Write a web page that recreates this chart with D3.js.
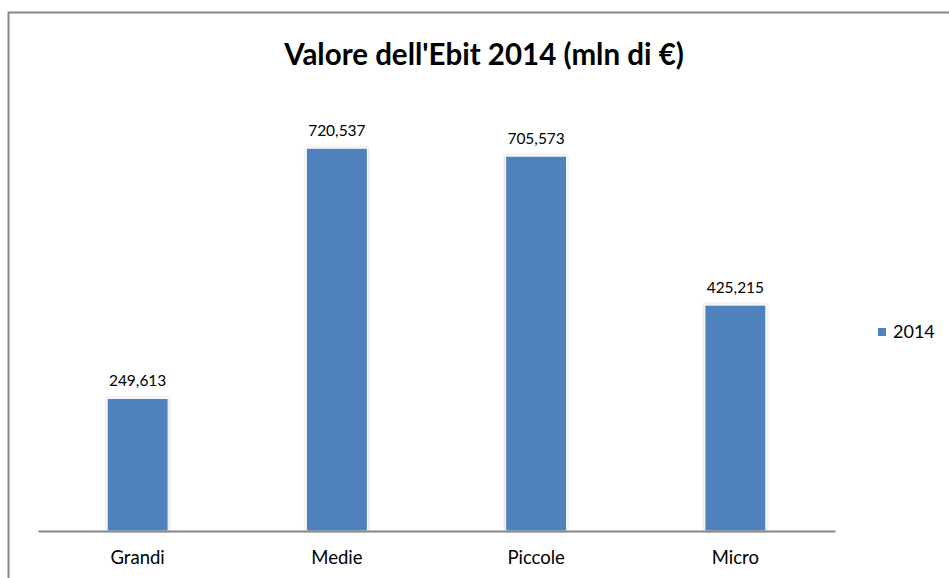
<!DOCTYPE html>
<html>
<head>
<meta charset="utf-8">
<script src="https://cdn.jsdelivr.net/npm/d3@7"></script>
<style>
  body { margin: 0; background: #fff; }
  text { font-family: Lato, "Open Sans", sans-serif; fill: #000; }
</style>
</head>
<body>
<svg id="chart" width="949" height="578"></svg>
<script>
  const categories = ["Grandi", "Medie", "Piccole", "Micro"];
  const values = [249.613, 720.537, 705.573, 425.215];
  const labels = ["249,613", "720,537", "705,573", "425,215"];
  const seriesName = "2014";
  const title = "Valore dell'Ebit 2014 (mln di €)";

  const svg = d3.select("#chart");
  const blue = "#4f81bd";

  // chart frame
  svg.append("path")
    .attr("d", "M8.5,578 V12.5 H949")
    .attr("fill", "none")
    .attr("stroke", "#868686")
    .attr("stroke-width", 2);

  const x = d3.scaleBand().domain(categories).range([38, 835]).paddingInner(0.694).paddingOuter(0.347);
  const y = d3.scaleLinear().domain([0, 800]).range([531, 106]);

  const defs = svg.append("defs");
  const f = defs.append("filter").attr("id", "shadow").attr("x", "-20%").attr("y", "-5%").attr("width", "140%").attr("height", "110%");
  f.append("feDropShadow").attr("dx", 0).attr("dy", 0).attr("stdDeviation", 1.5).attr("flood-color", "#000").attr("flood-opacity", 0.25);

  svg.selectAll(".bar")
    .data(values)
    .enter()
    .append("rect")
    .attr("class", "bar")
    .attr("x", (d, i) => x(categories[i]))
    .attr("y", (d) => y(d))
    .attr("width", x.bandwidth())
    .attr("height", (d) => y(0) - y(d))
    .attr("fill", blue)
    .attr("stroke", "#ffffff")
    .attr("stroke-width", 1)
    .attr("filter", "url(#shadow)");

  svg.selectAll(".vlabel")
    .data(values)
    .enter()
    .append("text")
    .attr("class", "vlabel")
    .attr("x", (d, i) => x(categories[i]) + x.bandwidth() / 2)
    .attr("y", (d) => y(d) - 12)
    .attr("text-anchor", "middle")
    .attr("font-size", 15.5)
    .text((d, i) => labels[i]);

  // x axis
  const axis = svg.append("g").attr("transform", "translate(0,531)")
    .call(d3.axisBottom(x).tickSize(0).tickPadding(20));
  axis.select(".domain").attr("stroke", "#868686").attr("stroke-width", 2);
  axis.selectAll(".tick text").attr("font-size", 18.5).attr("font-family", "Lato, 'Open Sans', sans-serif").attr("fill", "#000");

  svg.append("text")
    .attr("x", 484)
    .attr("y", 65)
    .attr("text-anchor", "middle")
    .attr("font-size", 29.5)
    .attr("font-weight", "bold")
    .text(title);

  // legend
  const lg = svg.append("g").attr("transform", "translate(878,328)");
  lg.append("rect").attr("width", 8).attr("height", 8).attr("fill", blue);
  lg.append("text").attr("x", 15).attr("y", 10).attr("font-size", 18).text(seriesName);
</script>
</body>
</html>
